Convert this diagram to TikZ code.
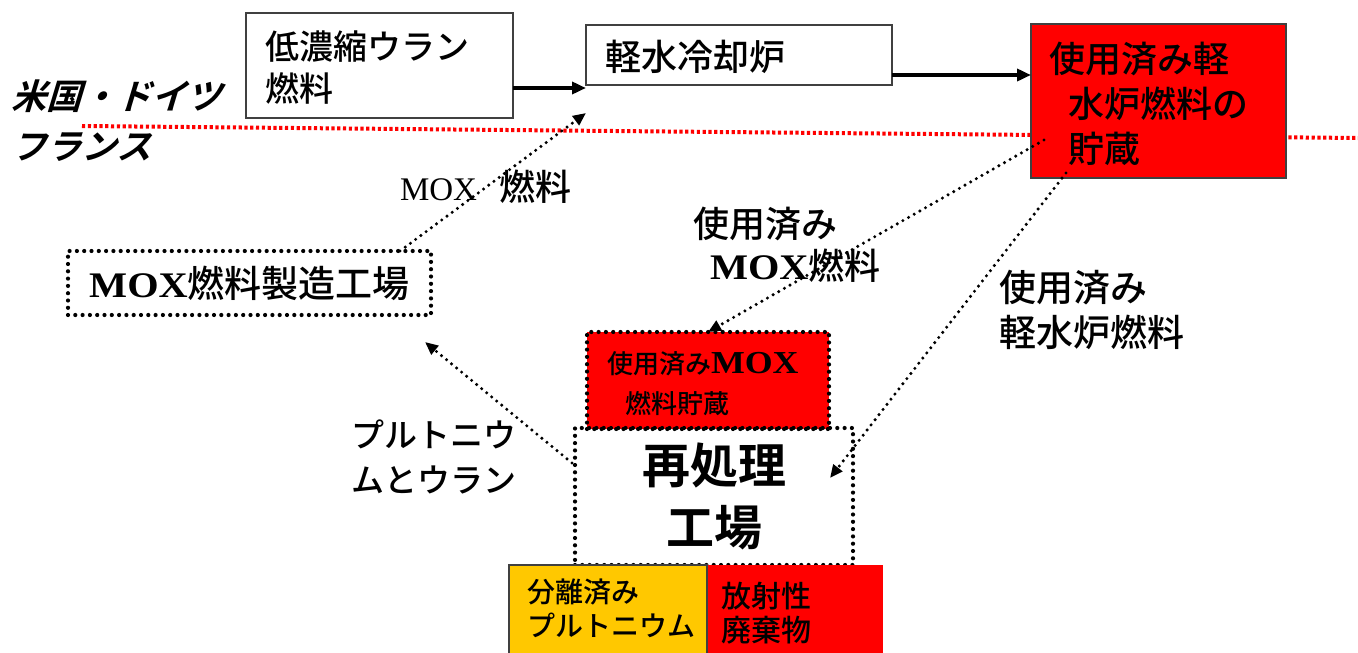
\documentclass[tikz,border=0pt]{standalone}
\usepackage{fontspec}
\setmainfont{Noto Sans CJK JP}[UprightFont=* Medium,BoldFont=* Bold]
\newfontfamily\serifreg{Liberation Serif}
\newfontfamily\serifbd[FakeStretch=1.12]{Liberation Serif Bold}
\newfontfamily\jpit[FakeSlant=0.3,UprightFont=* Bold]{Noto Sans CJK JP}
\usetikzlibrary{arrows.meta,calc}
\definecolor{pred}{RGB}{255,0,0}
\definecolor{porange}{RGB}{255,200,0}
\newcommand{\fs}[2]{\fontsize{#1}{#2}\selectfont}
\begin{document}
\begin{tikzpicture}[x=1pt,y=-1pt,
  solidbox/.style={draw=black!75,line width=1.8pt,inner sep=0pt,outer sep=0pt},
  dotbox/.style={draw=black,line width=4.2pt,dash pattern=on 0pt off 7.3pt,line cap=round,inner sep=0pt,outer sep=0pt},
  flow/.style={line width=3.5pt,-{Triangle[length=14pt,width=12pt]}},
  dflow/.style={line width=3.4pt,dash pattern=on 0pt off 6.5pt,line cap=round,-{Triangle[length=13pt,width=11pt]}},
  txt/.style={inner sep=0pt,outer sep=0pt,anchor=north west,align=left},
]
\useasboundingbox (0,0) rectangle (1358,653);
% border line between countries
\coordinate (bl) at (82,126);
\coordinate (br) at (1358,138);
\draw[pred,line width=4pt,dash pattern=on 3.2pt off 2.6pt] (bl) -- (br);
% country labels
\node[txt,font=\jpit\fs{35}{50}] (cty) at (12,80) {米国・ドイツ\\フランス};
% boxes
\node[solidbox,fill=white,anchor=north west,minimum width=267pt,minimum height=105pt] (lb) at (246,13) {};
\node[txt,font=\fs{34}{42}] (lbt) at (265,31) {低濃縮ウラン\\燃料};
\node[solidbox,fill=white,anchor=north west,minimum width=306pt,minimum height=60pt] (lw) at (586,25) {};
\node[txt,font=\fs{36}{44}] (lwt) at (605,40) {軽水冷却炉};
\node[solidbox,fill=pred,anchor=north west,minimum width=255pt,minimum height=154pt] (rs) at (1031,24) {};
\node[txt,font=\fs{36}{45}] (rst) at (1049,42) {使用済み軽\\\hspace*{19pt}水炉燃料の\\\hspace*{19pt}貯蔵};
\node[dotbox,minimum width=363pt,minimum height=64pt] (mf) at (249.5,283) {{\serifbd\fs{36}{40}MOX}{\fs{37}{40}燃料製造工場}};
\node[dotbox,fill=pred,anchor=north west,minimum width=242pt,minimum height=97pt] (ms) at (587,332) {};
\node[txt,font=\fs{26}{40}] (mst) at (607,351) {使用済み{\serifbd\fontsize{32}{40}\selectfont MOX}\\\hspace*{18pt}燃料貯蔵};
\node[dotbox,anchor=north west,minimum width=278pt,minimum height=137pt,align=center,font=\bfseries\fs{48}{62}] (rp) at (575,428) {再処理\\工場};
\node[solidbox,fill=porange,anchor=north west,minimum width=198pt,minimum height=100pt] (pu) at (509,565) {};
\node[txt,font=\fs{28}{34}] (put) at (527,579) {分離済み\\プルトニウム};
\node[fill=pred,inner sep=0pt,outer sep=0pt,anchor=north west,minimum width=175pt,minimum height=100pt] (rw) at (708,565) {};
\node[txt,font=\fs{30}{34}] (rwt) at (721,582) {放射性\\廃棄物};
% labels
\node[txt,font=\fs{36}{40}] (lmox) at (400,170) {{\serifreg\fs{33}{40}MOX}\hspace{22pt}燃料};
\node[txt,font=\fs{36}{42}] (lsm) at (693,207) {使用済み\\\hspace*{17pt}{\serifbd\fs{36}{42}MOX}燃料};
\node[txt,font=\fs{37}{45}] (lsl) at (999,270) {使用済み\\軽水炉燃料};
\node[txt,font=\fs{33}{45}] (lpu) at (351,420) {プルトニウ\\ムとウラン};
% arrows
\draw[flow] ([yshift=-3pt]lb.east |- lw.south west) -- ([yshift=-3pt]lw.south west);
\draw[flow] ([yshift=-20pt]lw.east) -- ([yshift=-20pt]lw.east -| rs.west);
\draw[dflow] ([xshift=150.5pt]mf.north) -- ([yshift=-28pt]lw.south west);
\draw[dflow] ([xshift=13pt,yshift=-39pt]rs.west) -- (ms.north);
\draw[dflow] ([xshift=35pt,yshift=5pt]rs.south west) -- ([xshift=-23pt,yshift=18.5pt]rp.east);
\draw[dflow] ([xshift=-3pt,yshift=33.5pt]rp.west) -- ([xshift=-6pt,yshift=-27pt]mf.south east);
\end{tikzpicture}
\end{document}
